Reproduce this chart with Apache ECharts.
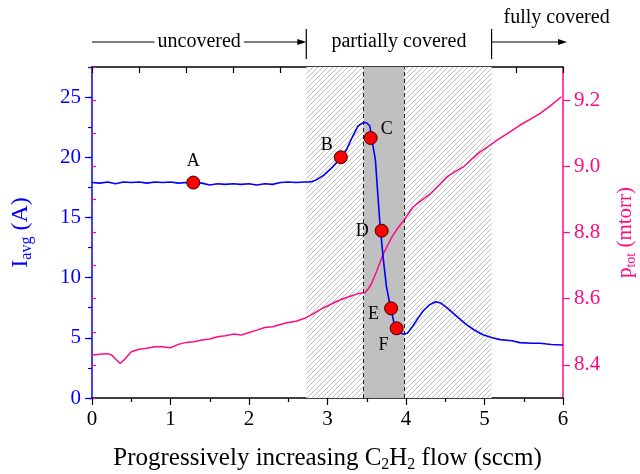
<!DOCTYPE html>
<html><head><meta charset="utf-8">
<script src="https://cdn.jsdelivr.net/npm/echarts@6/dist/echarts.min.js"></script>
<style>html,body{margin:0;padding:0;background:#fff}#c{width:640px;height:474px}</style>
</head><body><div id="c"></div>
<script>
// ---------- data ----------
const iFlow = [0,0.1,0.2,0.3,0.4,0.5,0.6,0.7,0.8,0.9,1.0,1.1,1.2,1.3,1.4,1.5,1.6,1.7,1.8,1.9,2.0,2.1,2.2,2.3,2.4,2.5,2.6,2.7,
  2.78,2.85,2.95,3.05,3.15,3.24,3.31,3.39,3.46,3.5,3.52,3.54,3.56,3.58,3.61,3.64,3.67,3.71,3.75,3.8,3.86,3.92,3.98,
  4.02,4.09,4.16,4.22,4.3,4.38,4.44,4.52,4.6,4.68,4.77,4.87,4.98,5.1,5.2,5.35,5.45,5.6,5.71,5.85,6.0];
const iAvg = [17.9,17.85,17.95,17.8,17.95,17.9,17.95,17.85,17.95,17.9,17.95,17.85,17.9,17.88,17.85,17.7,17.8,17.75,17.8,17.75,17.8,17.7,17.8,17.75,17.9,17.95,17.9,17.95,
  17.95,18.1,18.5,19.1,19.8,20.6,21.6,22.6,22.9,22.85,23.0,22.6,21.7,20.9,19.8,17.0,14.3,11.6,9.3,7.6,5.9,5.4,5.3,
  5.4,6.0,6.7,7.25,7.75,8.0,7.9,7.5,7.05,6.6,6.1,5.65,5.25,5.0,4.85,4.75,4.6,4.55,4.55,4.45,4.4];
const pFlow = [0,0.1,0.2,0.25,0.3,0.36,0.42,0.5,0.6,0.7,0.8,0.9,1.0,1.1,1.2,1.3,1.4,1.5,1.6,1.7,1.8,1.9,2.0,2.1,2.2,2.3,2.4,2.5,2.6,2.7,
  2.8,2.9,3.0,3.1,3.2,3.3,3.4,3.48,3.52,3.56,3.63,3.71,3.82,3.9,3.97,4.09,4.2,4.31,4.42,4.52,4.62,4.73,4.84,4.94,5.05,5.16,5.3,5.45,5.58,5.71,5.85,5.98];
const pTot = [8.43,8.432,8.434,8.43,8.418,8.404,8.418,8.44,8.447,8.45,8.455,8.455,8.452,8.462,8.468,8.47,8.475,8.478,8.485,8.488,8.493,8.49,8.498,8.505,8.513,8.515,8.522,8.528,8.532,8.54,
  8.552,8.566,8.578,8.59,8.6,8.608,8.616,8.619,8.63,8.645,8.685,8.735,8.786,8.815,8.836,8.877,8.898,8.917,8.943,8.968,8.983,8.998,9.022,9.043,9.06,9.079,9.1,9.124,9.142,9.16,9.185,9.21];
const markerNames = ['A','B','C','D','E','F'];
const markerFlow = [1.29,3.17,3.55,3.69,3.81,3.88];
const markerI = [17.9,20.0,21.6,13.9,7.45,5.79];
const iTickValues = [0,5,10,15,20,25];
const pTickValues = [8.4,8.6,8.8,9.0,9.2];
const hatchRange = [2.73,5.09];
const grayRange = [3.46,3.98];
const regionNames = ['uncovered','partially covered','fully covered'];

// ---------- styles ----------
const FONT = "'Liberation Serif','Times New Roman',serif";
const BLUE = '#0000ff', PINK = '#ff0a82';
const labelStyle = {
  A:{position:'top',distance:5,offset:[0,0]},
  B:{position:'left',distance:5,offset:[4,-12]},
  C:{position:'right',distance:5,offset:[-2,-9]},
  D:{position:'left',distance:5,offset:[-1,1]},
  E:{position:'left',distance:5,offset:[0,6]},
  F:{position:'bottom',distance:5,offset:[-13,-4]}
};
function hatch(){
  const c=document.createElement('canvas'); c.width=5; c.height=5;
  const g=c.getContext('2d'); g.fillStyle='#fff'; g.fillRect(0,0,5,5);
  g.strokeStyle='#bdbdbd'; g.lineWidth=1;
  g.beginPath(); g.moveTo(-1,6); g.lineTo(6,-1); g.moveTo(-1,1); g.lineTo(1,-1); g.moveTo(4,6); g.lineTo(6,4); g.stroke();
  return c;
}
function rich(main, sub){
  return {
    m:{fontSize:main,lineHeight:main+2,verticalAlign:'top',fontFamily:FONT},
    s:{fontSize:sub,verticalAlign:'bottom',fontFamily:FONT}
  };
}
const chart = echarts.init(document.getElementById('c'), null, {renderer:'canvas'});
const iData = iFlow.map((x,k)=>[x,iAvg[k]]);
const pData = pFlow.map((x,k)=>[x,pTot[k]]);
const mData = markerNames.map((n,k)=>({value:[markerFlow[k],markerI[k]],name:n,
  label:Object.assign({show:true,formatter:n,fontSize:18,fontFamily:FONT,color:'#000'},labelStyle[n])}));

const option = {
  animation:false,
  backgroundColor:'#fff',
  grid:{left:92,right:77,top:67,bottom:76,containLabel:false,outerBoundsMode:'none'},
  xAxis:[{
    type:'value',min:0,max:6,interval:1,position:'bottom',
    axisLine:{show:true,onZero:false,lineStyle:{color:'#000',width:1.5}},
    axisTick:{show:true,length:7,lineStyle:{color:'#000',width:1.2}},
    minorTick:{show:true,splitNumber:2,length:4,lineStyle:{color:'#000',width:1.2}},
    splitLine:{show:false},
    axisLabel:{color:'#000',fontSize:21,fontFamily:FONT,margin:11},
    name:'{m|Progressively increasing C}{s|2}{m|H}{s|2}{m| flow (sccm)}',
    nameLocation:'middle',nameGap:48,
    nameTextStyle:{color:'#000',fontFamily:FONT,fontSize:25,rich:rich(25,16)}
  },{
    type:'value',min:0,max:6,interval:0.6,position:'top',
    axisLine:{show:true,onZero:false,lineStyle:{color:'#000',width:1.5}},
    axisTick:{show:true,inside:true,length:6,lineStyle:{color:'#000',width:1.2}},
    axisLabel:{show:false},splitLine:{show:false}
  }],
  yAxis:[{
    type:'value',min:0,max:27.5,position:'left',
    axisLine:{show:true,onZero:false,lineStyle:{color:BLUE,width:1.5}},
    axisTick:{show:true,length:7,customValues:iTickValues,lineStyle:{color:BLUE,width:1.2}},
    axisLabel:{color:BLUE,fontSize:21,fontFamily:FONT,margin:11,customValues:iTickValues},
    splitLine:{show:false},
    name:'{m|I}{s|avg}{m| (A)}',nameLocation:'middle',nameRotate:90,nameGap:57,
    nameTextStyle:{color:BLUE,fontFamily:FONT,fontSize:24,rich:rich(24,16)}
  },{
    type:'value',min:8.3,max:9.3,position:'right',
    axisLine:{show:true,onZero:false,lineStyle:{color:PINK,width:1.5}},
    axisTick:{show:true,length:7,customValues:pTickValues,lineStyle:{color:PINK,width:1.2}},
    axisLabel:{color:PINK,fontSize:21,fontFamily:FONT,margin:11,customValues:pTickValues,formatter:v=>Number(v).toFixed(1)},
    splitLine:{show:false},
    name:'{m|p}{s|tot}{m| (mtorr)}',nameLocation:'middle',nameRotate:90,nameGap:52,
    nameTextStyle:{color:PINK,fontFamily:FONT,fontSize:21,rich:rich(21,14)}
  },{
    type:'value',min:0,max:27.5,interval:2.5,position:'left',
    axisLine:{show:false},axisTick:{show:true,length:4,lineStyle:{color:BLUE,width:1.2}},
    axisLabel:{show:false},splitLine:{show:false}
  },{
    type:'value',min:8.3,max:9.3,interval:0.1,position:'right',
    axisLine:{show:false},axisTick:{show:true,length:4,lineStyle:{color:PINK,width:1.2}},
    axisLabel:{show:false},splitLine:{show:false}
  }],
  series:[{
    type:'line',data:[],yAxisIndex:0,z:1,silent:true,
    markArea:{silent:true,data:[
      [{xAxis:hatchRange[0],itemStyle:{color:{image:hatch(),repeat:'repeat'}}},{xAxis:hatchRange[1]}],
      [{xAxis:grayRange[0],itemStyle:{color:'#c0c0c0'}},{xAxis:grayRange[1]}]
    ]},
    markLine:{silent:true,symbol:'none',label:{show:false},
      lineStyle:{color:'#222',type:[4,3],width:1},
      data:[{xAxis:grayRange[0]},{xAxis:grayRange[1]}]}
  },{
    type:'line',data:pData,yAxisIndex:1,showSymbol:false,z:3,
    lineStyle:{color:PINK,width:1.5}
  },{
    type:'line',data:iData,yAxisIndex:0,showSymbol:false,z:4,
    lineStyle:{color:BLUE,width:1.6}
  },{
    type:'scatter',data:mData,yAxisIndex:0,z:5,symbolSize:13,
    itemStyle:{color:'#ff0000',borderColor:'#3a0000',borderWidth:1,opacity:1}
  }]
};
chart.setOption(option);

// ---------- top annotations ----------
const px = v => chart.convertToPixel({xAxisIndex:0}, v);
const x0 = px(0), xa = px(hatchRange[0]), xb = px(hatchRange[1]), x6 = px(6);
const yL = 42, tf = {fontSize:20,fontFamily:FONT,fill:'#000'};
const ln = (x1,y1,x2,y2)=>({type:'line',shape:{x1,y1,x2,y2},style:{stroke:'#000',lineWidth:1.2},silent:true});
const arrow = (x,y)=>({type:'polygon',shape:{points:[[x,y],[x-9,y-3],[x-9,y+3]]},style:{fill:'#000'},silent:true});
chart.setOption({graphic:[
  ln(x0,yL,xa-8,yL), arrow(xa,yL), ln(xa,29,xa,59),
  {type:'text',x:(x0+xa)/2,y:yL,style:Object.assign({text:regionNames[0],align:'center',verticalAlign:'middle',backgroundColor:'#fff',padding:[0,3]},tf),z:10},
  {type:'text',x:(xa+xb)/2,y:yL,style:Object.assign({text:regionNames[1],align:'center',verticalAlign:'middle'},tf)},
  ln(xb,29,xb,59), ln(xb,yL,x6-4,yL), arrow(x6+4,yL),
  {type:'text',x:xb+12,y:18,style:Object.assign({text:regionNames[2],align:'left',verticalAlign:'middle'},tf)}
]});
</script>
</body></html>
